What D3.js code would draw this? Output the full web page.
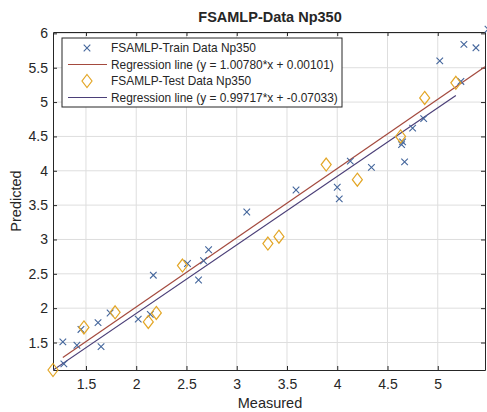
<!DOCTYPE html>
<html>
<head>
<meta charset="utf-8">
<script src="https://cdn.jsdelivr.net/npm/d3@7"></script>
<style>
  body { margin: 0; background: #fff; }
  text { font-family: "Liberation Sans", Arial, sans-serif; fill: #262626; }
</style>
</head>
<body>
<div id="chart"></div>
<script>
// Data
var trainX = [1.28, 1.27, 1.41, 1.45, 1.62, 1.65, 1.74, 2.02, 2.14, 2.17, 2.51, 2.62, 2.67, 2.72, 3.10,
              3.59, 4.00, 4.02, 4.13, 4.34, 4.67, 4.64, 4.65, 4.75, 4.86, 5.02, 5.23, 5.26, 5.38, 5.50];
var trainY = [1.19, 1.51, 1.46, 1.69, 1.79, 1.44, 1.93, 1.84, 1.91, 2.48, 2.65, 2.41, 2.69, 2.85, 3.40,
              3.72, 3.76, 3.59, 4.14, 4.05, 4.13, 4.38, 4.42, 4.62, 4.76, 5.60, 5.30, 5.84, 5.79, 6.06];
var testX = [1.172, 1.48, 1.79, 2.12, 2.20, 2.46, 3.31, 3.42, 3.89, 4.20, 4.63, 4.87, 5.18];
var testY = [1.10, 1.72, 1.94, 1.80, 1.93, 2.62, 2.94, 3.04, 4.09, 3.87, 4.50, 5.06, 5.28];
var trainFit = [1.00780, 0.00101];
var testFit = [0.99717, -0.07033];
var xTicks = [1.5, 2, 2.5, 3, 3.5, 4, 4.5, 5];
var yTicks = [1.5, 2, 2.5, 3, 3.5, 4, 4.5, 5, 5.5, 6];
var legendLabels = [
  "FSAMLP-Train Data Np350",
  "Regression line (y = 1.00780*x + 0.00101)",
  "FSAMLP-Test Data Np350",
  "Regression line (y = 0.99717*x + -0.07033)"
];

var svgWidth = 487, svgHeight = 412;
var margin = { top: 32, right: 2, bottom: 42, left: 53 };
var width = svgWidth - margin.left - margin.right;
var height = svgHeight - margin.top - margin.bottom;

var trainColor = "#44669c", testColor = "#e3a626";
var trainLine = "#a44a3e", testLine = "#4b3f78";

var svg = d3.select("#chart").append("svg")
  .attr("width", svgWidth)
  .attr("height", svgHeight);

var g = svg.append("g").attr("transform", `translate(${margin.left}, ${margin.top})`);

var x = d3.scaleLinear().domain([1.172, 5.47]).range([0, width]);
var y = d3.scaleLinear().domain([1.10, 6.02]).range([height, 0]);

// grid
g.append("g").selectAll("line").data(xTicks).enter().append("line")
  .attr("x1", d => x(d)).attr("x2", d => x(d)).attr("y1", 0).attr("y2", height)
  .attr("stroke", "#dedede").attr("stroke-width", 1);
g.append("g").selectAll("line").data(yTicks).enter().append("line")
  .attr("y1", d => y(d)).attr("y2", d => y(d)).attr("x1", 0).attr("x2", width)
  .attr("stroke", "#dedede").attr("stroke-width", 1);

// axes (ticks inside, box)
function styleAxis(sel) {
  sel.select(".domain").attr("stroke", "#262626");
  sel.selectAll(".tick line").attr("stroke", "#262626");
  sel.selectAll("text").attr("font-size", "14px").style("font-family", "'Liberation Sans', Arial, sans-serif").attr("fill", "#262626");
}
g.append("g").attr("transform", `translate(0, ${height})`)
  .call(d3.axisBottom(x).tickValues(xTicks).tickSizeInner(-4).tickSizeOuter(0).tickPadding(9).tickFormat(d => d))
  .call(styleAxis);
g.append("g")
  .call(d3.axisLeft(y).tickValues(yTicks).tickSizeInner(-4).tickSizeOuter(0).tickPadding(5).tickFormat(d => d))
  .call(styleAxis);
g.append("g")
  .call(d3.axisTop(x).tickValues(xTicks).tickSizeInner(-4).tickSizeOuter(0).tickFormat(""))
  .call(styleAxis);
g.append("g").attr("transform", `translate(${width}, 0)`)
  .call(d3.axisRight(y).tickValues(yTicks).tickSizeInner(-4).tickSizeOuter(0).tickFormat(""))
  .call(styleAxis);

// regression lines (clipped)
g.append("clipPath").attr("id", "clip").append("rect").attr("width", width).attr("height", height);
var lineGen = d3.line().x(d => x(d[0])).y(d => y(d[1]));
var trainRange = [d3.min(trainX), x.domain()[1]];
var testRange = d3.extent(testX);
g.append("path").attr("clip-path", "url(#clip)")
  .datum(trainRange.map(v => [v, trainFit[0] * v + trainFit[1]]))
  .attr("d", lineGen).attr("fill", "none").attr("stroke", trainLine).attr("stroke-width", 1.2);
g.append("path").attr("clip-path", "url(#clip)")
  .datum(testRange.map(v => [v, testFit[0] * v + testFit[1]]))
  .attr("d", lineGen).attr("fill", "none").attr("stroke", testLine).attr("stroke-width", 1.2);

// markers
var cross = d3.symbol().type(d3.symbolX).size(30);
var diamond = "M0,-6.5L5,0L0,6.5L-5,0Z";
g.append("g").selectAll("path").data(trainX).enter().append("path")
  .attr("d", cross)
  .attr("transform", (d, i) => `translate(${x(d)}, ${y(trainY[i])})`)
  .attr("fill", "none").attr("stroke", trainColor).attr("stroke-width", 1.1);
g.append("g").selectAll("path").data(testX).enter().append("path")
  .attr("d", diamond)
  .attr("transform", (d, i) => `translate(${x(d)}, ${y(testY[i])})`)
  .attr("fill", "none").attr("stroke", testColor).attr("stroke-width", 1.2);

// legend
var legend = svg.append("g").attr("transform", "translate(62, 38)");
legend.append("rect").attr("width", 280).attr("height", 69)
  .attr("fill", "#fff").attr("stroke", "#262626").attr("stroke-width", 1);
var rowY = [10, 26.5, 43, 59.5];
legend.append("path").attr("d", cross).attr("transform", `translate(25, ${rowY[0]})`)
  .attr("fill", "none").attr("stroke", trainColor).attr("stroke-width", 1.1);
legend.append("line").attr("x1", 6).attr("x2", 45).attr("y1", rowY[1]).attr("y2", rowY[1])
  .attr("stroke", trainLine).attr("stroke-width", 1.2);
legend.append("path").attr("d", diamond).attr("transform", `translate(25, ${rowY[2]})`)
  .attr("fill", "none").attr("stroke", testColor).attr("stroke-width", 1.2);
legend.append("line").attr("x1", 6).attr("x2", 45).attr("y1", rowY[3]).attr("y2", rowY[3])
  .attr("stroke", testLine).attr("stroke-width", 1.2);
legend.selectAll("text.lab").data(legendLabels).enter().append("text")
  .attr("class", "lab")
  .attr("x", 49).attr("y", (d, i) => rowY[i]).attr("dy", "0.35em")
  .attr("font-size", "11.9px").text(d => d);

// title and axis labels
svg.append("text").attr("x", 270).attr("y", 22).attr("text-anchor", "middle")
  .attr("font-size", "14.5px").attr("font-weight", "bold").attr("fill", "#000").text("FSAMLP-Data Np350");
svg.append("text").attr("transform", `translate(${margin.left + width / 2 + 1}, 408)`)
  .attr("text-anchor", "middle").attr("font-size", "14.5px").text("Measured");
svg.append("text").attr("transform", `translate(21, ${margin.top + height / 2}) rotate(-90)`)
  .attr("text-anchor", "middle").attr("font-size", "14.5px").text("Predicted");
</script>
</body>
</html>
